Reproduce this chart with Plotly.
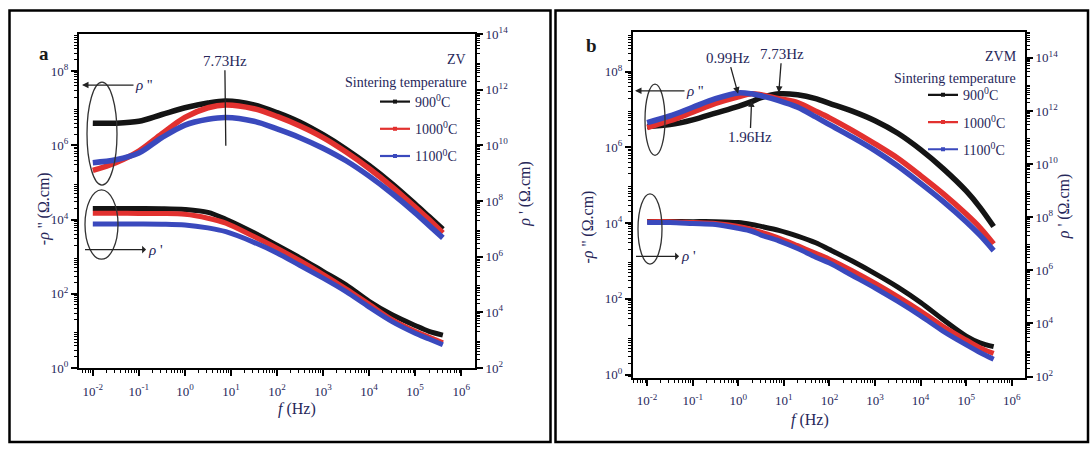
import math
import plotly.graph_objects as go

W, H = 1091, 452

# ---------------- data ----------------
# Sampling frequencies (Hz)
freq_zv = [0.01, 0.0316, 0.1, 0.316, 1, 3.16, 7.73, 31.6, 100, 316,
           1e3, 3.16e3, 1e4, 3.16e4, 1e5, 2e5, 4e5]
freq_zvm = [0.01, 0.0316, 0.1, 0.316, 1, 1.96, 3.16, 7.73, 20, 50, 100, 316,
            1e3, 3.16e3, 1e4, 3.16e4, 1e5, 2e5, 4e5]

temps = ["900<sup>0</sup>C", "1000<sup>0</sup>C", "1100<sup>0</sup>C"]
colors = ["#141414", "#e2312f", "#3a49bd"]

# ZV: -rho'' (Ohm.cm)
rho2_zv_900 = [3.96e6, 3.96e6, 4.46e6, 6.78e6, 1.03e7, 1.39e7, 1.57e7, 1.23e7, 7.64e6,
               4.20e6, 1.93e6, 7.87e5, 2.85e5, 9.14e4, 2.61e4, 1.20e4, 5.50e3]
rho2_zv_1000 = [2.11e5, 3.41e5, 6.99e5, 2.05e6, 5.66e6, 1.03e7, 1.23e7, 9.71e6, 6.01e6,
                3.31e6, 1.61e6, 6.58e5, 2.38e5, 7.64e4, 2.18e4, 1.00e4, 4.33e3]
rho2_zv_1100 = [3.41e5, 4.08e5, 6.19e5, 1.61e6, 3.51e6, 5.03e6, 5.66e6, 4.46e6, 2.77e6,
                1.61e6, 8.36e5, 3.84e5, 1.48e5, 5.03e4, 1.52e4, 6.98e3, 3.21e3]
# ZV: rho' (Ohm.cm)
rho1_zv_900 = [5.40e7, 5.38e7, 5.36e7, 5.30e7, 4.94e7, 3.89e7, 2.22e7, 7.26e6, 2.57e6,
               9.09e5, 2.97e5, 9.68e4, 2.49e4, 8.13e3, 3.37e3, 2.08e3, 1.52e3]
rho1_zv_1000 = [3.62e7, 3.60e7, 3.59e7, 3.55e7, 3.32e7, 2.41e7, 1.61e7, 5.27e6, 2.02e6,
                7.15e5, 2.33e5, 7.03e4, 1.96e4, 5.45e3, 2.08e3, 1.29e3, 8.00e2]
rho1_zv_1100 = [1.50e7, 1.49e7, 1.49e7, 1.47e7, 1.38e7, 1.08e7, 7.87e6, 3.27e6, 1.36e6,
                4.80e5, 1.69e5, 5.53e4, 1.54e4, 4.64e3, 1.78e3, 1.10e3, 6.81e2]

# ZVM: -rho'' (Ohm.cm)
rho2_zvm_900 = [3.53e6, 3.97e6, 5.32e6, 8.01e6, 1.21e7, 1.61e7, 2.04e7, 2.58e7, 2.43e7,
                1.92e7, 1.44e7, 9.00e6, 5.02e6, 2.35e6, 8.69e5, 2.70e5, 7.05e4, 2.61e4, 8.11e3]
rho2_zvm_1000 = [3.33e6, 5.02e6, 8.49e6, 1.44e7, 2.16e7, 2.58e7, 2.43e7, 1.92e7, 1.52e7,
                 9.00e6, 5.98e6, 2.80e6, 1.23e6, 5.14e5, 1.79e5, 5.91e4, 1.73e4, 7.64e3, 2.83e3]
rho2_zvm_1100 = [4.46e6, 6.71e6, 1.14e7, 1.92e7, 2.73e7, 2.58e7, 2.29e7, 1.71e7, 1.14e7,
                 6.34e6, 3.97e6, 1.86e6, 8.20e5, 3.22e5, 1.12e5, 3.70e4, 1.09e4, 4.79e3, 1.88e3]
# ZVM: rho' (Ohm.cm)
rho1_zvm_900 = [6.85e7, 6.83e7, 6.81e7, 6.78e7, 6.27e7, 5.31e7, 4.49e7, 3.21e7, 1.95e7,
                1.09e7, 6.07e6, 2.23e6, 7.53e5, 2.34e5, 6.16e4, 1.37e4, 3.33e3, 1.85e3, 1.33e3]
rho1_zvm_1000 = [6.81e7, 6.81e7, 6.27e7, 5.77e7, 4.49e7, 3.49e7, 2.72e7, 1.65e7, 8.47e6,
                 4.35e6, 2.63e6, 9.68e5, 3.27e5, 1.02e5, 2.91e4, 7.66e3, 2.38e3, 1.22e3, 7.41e2]
rho1_zvm_1100 = [6.27e7, 6.27e7, 5.77e7, 5.31e7, 3.80e7, 2.96e7, 2.12e7, 1.28e7, 6.59e6,
                 3.11e6, 1.88e6, 6.37e5, 2.15e5, 6.70e4, 1.92e4, 5.05e3, 1.57e3, 8.05e2, 4.49e2]

# ---------------- styling helpers ----------------
FONT = "Liberation Serif, Times New Roman, serif"
TXT = "#27275a"


def px(xp):
    return xp / W


def py(yp):
    return 1 - yp / H


def minor_vals(lo, hi):
    return [m * 10.0 ** k for k in range(lo, hi) for m in range(2, 10)]


TICK = dict(ticks="outside", ticklen=6, tickwidth=1.6, tickcolor="black",
            showgrid=False, zeroline=False)


def log_axis(lo, hi, step, **kw):
    """Log axis with labelled decades every `step` and 2..9 minor ticks."""
    ks = list(range(lo, hi + 1, step))
    d = dict(type="log", tickmode="array", tickvals=[10.0 ** k for k in ks],
             ticktext=["10<sup>%d</sup>" % k for k in ks],
             showline=True, linewidth=2, linecolor="black",
             tickfont=dict(family=FONT, size=13, color=TXT),
             minor=dict(tickmode="array", tickvals=minor_vals(lo - 1, hi + 1),
                        ticks="outside", ticklen=3, tickwidth=1.2,
                        tickcolor="black", showgrid=False), **TICK)
    d.update(kw)
    return d


def odd_decades(lo, hi, **kw):
    """Unlabelled full-length ticks on the decades between the labelled ones."""
    d = dict(type="log", tickmode="array",
             tickvals=[10.0 ** k for k in range(lo, hi + 1, 2)],
             showticklabels=False, showline=False, **TICK)
    d.update(kw)
    return d


fig = go.Figure()

panels = [
    ("x", "y", "y2", freq_zv,
     [rho2_zv_900, rho2_zv_1000, rho2_zv_1100],
     [rho1_zv_900, rho1_zv_1000, rho1_zv_1100], "legend"),
    ("x2", "y3", "y4", freq_zvm,
     [rho2_zvm_900, rho2_zvm_1000, rho2_zvm_1100],
     [rho1_zvm_900, rho1_zvm_1000, rho1_zvm_1100], "legend2"),
]

for xa, yl, yr, f, upper, lower, leg in panels:
    for i in range(3):
        fig.add_trace(go.Scatter(x=f, y=lower[i], xaxis=xa, yaxis=yr, mode="lines",
                                 line=dict(color=colors[i], width=5, shape="spline",
                                           smoothing=0.9),
                                 showlegend=False, hoverinfo="skip"))
    for i in range(3):
        fig.add_trace(go.Scatter(x=f, y=upper[i], xaxis=xa, yaxis=yl, mode="lines",
                                 line=dict(color=colors[i], width=5.5, shape="spline",
                                           smoothing=0.9),
                                 showlegend=False, hoverinfo="skip"))
    # legend keys
    for i in range(3):
        fig.add_trace(go.Scatter(x=[None], y=[None], xaxis=xa, yaxis=yl,
                                 mode="lines+markers", name=temps[i],
                                 line=dict(color=colors[i], width=2.2),
                                 marker=dict(color=colors[i], size=4, symbol="square"),
                                 legend=leg, legendgroup=leg + str(i)))

legend_style = dict(font=dict(family=FONT, size=14, color=TXT), bgcolor="rgba(0,0,0,0)",
                    tracegroupgap=6, itemwidth=30, xanchor="left", yanchor="top")

fig.update_layout(
    width=W, height=H, margin=dict(l=0, r=0, t=0, b=0),
    paper_bgcolor="white", plot_bgcolor="white",
    font=dict(family=FONT, color=TXT),
    # panel a (ZV)
    xaxis=log_axis(-2, 6, 1, range=[-2.3, 6.3], mirror=True, ticklabelstandoff=4,
                   domain=[px(79), px(475)], anchor="y"),
    yaxis=log_axis(0, 8, 2, range=[0, 9.0], domain=[py(373), py(26)], anchor="x"),
    yaxis2=log_axis(2, 14, 2, range=[2, 14.0], overlaying="y", side="right", anchor="x"),
    yaxis5=odd_decades(1, 9, range=[0, 9.0], overlaying="y", side="left", anchor="x"),
    yaxis6=odd_decades(3, 13, range=[2, 14.0], overlaying="y", side="right", anchor="x"),
    # panel b (ZVM)
    xaxis2=log_axis(-2, 6, 1, range=[-2.31, 6.29], mirror=True, ticklabelstandoff=4,
                    domain=[px(633), px(1025)], anchor="y3"),
    yaxis3=log_axis(0, 8, 2, range=[-0.076, 9.04], domain=[py(383), py(24)], anchor="x2"),
    yaxis4=log_axis(2, 14, 2, range=[1.96, 14.97], overlaying="y3", side="right",
                    anchor="x2"),
    yaxis7=odd_decades(1, 9, range=[-0.076, 9.04], overlaying="y3", side="left",
                       anchor="x2"),
    yaxis8=odd_decades(3, 15, range=[1.96, 14.97], overlaying="y3", side="right",
                       anchor="x2"),
    legend=dict(x=px(375), y=py(80), **legend_style),
    legend2=dict(x=px(923), y=py(73), **legend_style),
)

ann = []


def note(x, y, text, size=15, **kw):
    d = dict(x=x, y=y, xref="paper", yref="paper", text=text, showarrow=False,
             font=dict(family=FONT, size=size, color=TXT))
    d.update(kw)
    ann.append(d)


# panel letters
note(px(37), py(33), "<b>a</b>", font=dict(family=FONT, size=19, color="#1a1a1a"))
note(px(591), py(25), "<b>b</b>", font=dict(family=FONT, size=19, color="#1a1a1a"))

# axis titles
note(px(33), py(208), "-<i>ρ</i> '' (Ω.cm)", size=16, textangle=-90)
note(px(525), py(192), "<i>ρ</i> ' (Ω.cm)", size=16, textangle=-90)
note(px(588), py(227), "-<i>ρ</i> '' (Ω.cm)", size=16, textangle=-90)
note(px(1075), py(205), "<i>ρ</i> ' (Ω.cm)", size=16, textangle=-90)
note(px(276), py(427), "<i>f</i> (Hz)", size=16)
note(px(831), py(438), "<i>f</i> (Hz)", size=16)

# sample names and legend headings
note(px(468), py(43), "ZV", size=14, xanchor="right")
note(px(469), py(67), "Sintering temperature", size=14, xanchor="right")
note(px(1019), py(39), "ZVM", size=14, xanchor="right")
note(px(1018), py(62), "Sintering temperature", size=14, xanchor="right")

# curve-family markers: arrows to the axis each family is read against
arrow = dict(showarrow=True, arrowcolor="#222", arrowwidth=1.3, arrowsize=1, arrowhead=2)
note(px(82), py(79), "<i>ρ</i> ''", size=15, ax=62, ay=0, **arrow)
note(px(85), py(250), "<i>ρ</i> '", size=15, ax=70, ay=0, arrowside="start", **arrow)
note(px(635), py(85), "<i>ρ</i> ''", size=15, ax=60, ay=0, **arrow)
note(px(636), py(257), "<i>ρ</i> '", size=15, ax=52, ay=0, arrowside="start", **arrow)

# relaxation peak frequencies
ann.append(dict(x=math.log10(7.73), y=py(142), xref="x", yref="paper", text="7.73Hz",
                showarrow=True, arrowhead=0, arrowwidth=1.3, arrowcolor="#222",
                ax=-1, ay=-85, font=dict(family=FONT, size=15, color=TXT)))
for fpk, ypk, dx, dy in [(0.99, 88, -10, -36), (7.73, 87, 3, -39), (1.96, 95, -1.5, 37)]:
    ann.append(dict(x=math.log10(fpk), y=py(ypk), xref="x2", yref="paper",
                    text="%.2fHz" % fpk, showarrow=True, arrowhead=2, arrowsize=1,
                    arrowwidth=1.3, arrowcolor="#222", ax=dx, ay=dy,
                    font=dict(family=FONT, size=15, color=TXT)))

shapes = []
# ellipses grouping the low-frequency ends
for x0, y0, x1, y1 in [(87, 76, 117, 183), (85, 188, 118, 260),
                       (645, 78, 665, 152), (638, 192, 662, 265)]:
    shapes.append(dict(type="circle", xref="paper", yref="paper",
                       x0=px(x0), x1=px(x1), y0=py(y1), y1=py(y0),
                       line=dict(color="#333", width=1.3)))
# panel frames
for x0, x1 in [(9.5, 550.5), (555.5, 1088)]:
    shapes.append(dict(type="rect", xref="paper", yref="paper",
                       x0=px(x0), x1=px(x1), y0=py(450), y1=py(1.5),
                       line=dict(color="black", width=2.5)))

fig.update_layout(annotations=ann, shapes=shapes)
fig.write_html("out.html")
